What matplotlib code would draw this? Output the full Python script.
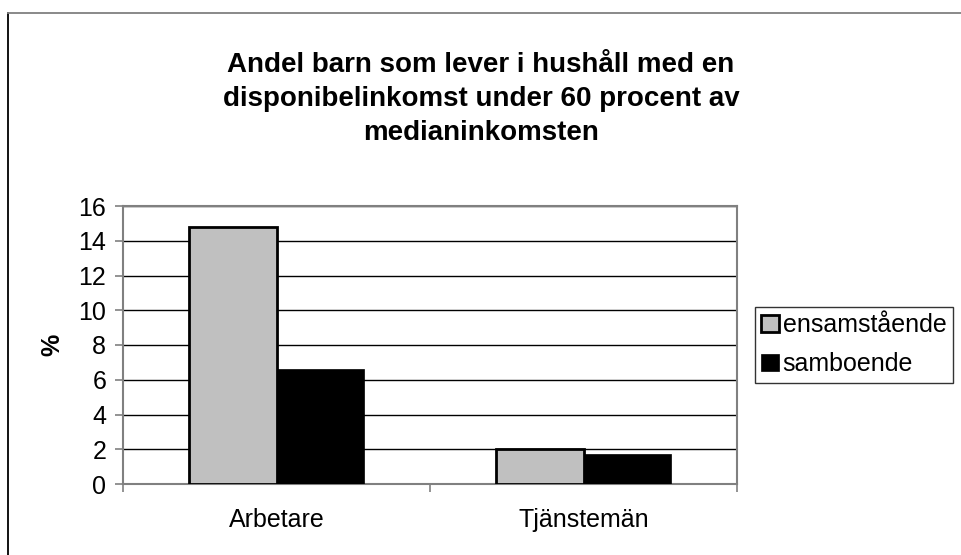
import numpy as np
import matplotlib.pyplot as plt
from matplotlib.lines import Line2D

plt.rcParams['font.family'] = ['Liberation Sans', 'DejaVu Sans']

categories = ["Arbetare", "Tjänstemän"]
ensamstaende = [14.8, 2.0]
samboende = [6.6, 1.7]
series_names = ["ensamstående", "samboende"]
yticks = [0, 2, 4, 6, 8, 10, 12, 14, 16]

W, H = 961, 555
fig = plt.figure(figsize=(W / 100, H / 100), dpi=100)
ax = fig.add_axes([123 / W, (H - 484) / H, (737 - 123) / W, (484 - 206) / H])

x = np.arange(len(categories))
w = 1 / 3.5
ax.bar(x - w / 2, ensamstaende, w, color="#C0C0C0", edgecolor="black", linewidth=2,
       label=series_names[0], zorder=3)
ax.bar(x + w / 2, samboende, w, color="black", edgecolor="black", linewidth=0.5,
       label=series_names[1], zorder=3)

ax.set_xlim(-0.5, len(categories) - 0.5)
ax.set_ylim(0, 16)
ax.set_yticks(yticks)
ax.set_yticklabels([str(v) for v in yticks], fontsize=18)
ax.yaxis.grid(True, color="black", linewidth=1, zorder=0)
ax.set_axisbelow(True)

# category labels between boundary ticks
ax.set_xticks([-0.5, 0.5, 1.5])
ax.set_xticklabels([])
ax.set_xticks(x, minor=True)
ax.set_xticklabels(categories, minor=True, fontsize=18)
ax.tick_params(axis="x", which="minor", length=0, pad=17)
ax.tick_params(axis="x", which="major", length=6, color="#808080", width=1.2)
ax.tick_params(axis="y", length=6, color="#808080", width=1.2, pad=6)

for s in ax.spines.values():
    s.set_color("#808080")
    s.set_linewidth(1.5)

ax.set_ylabel("%", fontsize=18, fontweight="bold", labelpad=10)

fig.text(481 / W, 1 - 99 / H,
         "Andel barn som lever i hushåll med en\ndisponibelinkomst under 60 procent av\nmedianinkomsten",
         ha="center", va="center", fontsize=20, fontweight="bold", linespacing=1.4)

leg = fig.legend(loc="upper left", bbox_to_anchor=(755 / W, 1 - 307 / H),
                 fontsize=18, frameon=True, fancybox=False, edgecolor="black",
                 handlelength=0.7, handleheight=0.7, handletextpad=0.15,
                 borderpad=0.25, labelspacing=0.6, borderaxespad=0)
leg.get_frame().set_linewidth(1)

# chart area border (top and left visible)
fig.add_artist(Line2D([8 / W, 8 / W], [0, 1 - 13 / H], transform=fig.transFigure,
                      color="black", linewidth=1.3))
fig.add_artist(Line2D([8 / W, 1], [1 - 13 / H, 1 - 13 / H], transform=fig.transFigure,
                      color="#808080", linewidth=1.3))

fig.savefig("out.png", dpi=100)
